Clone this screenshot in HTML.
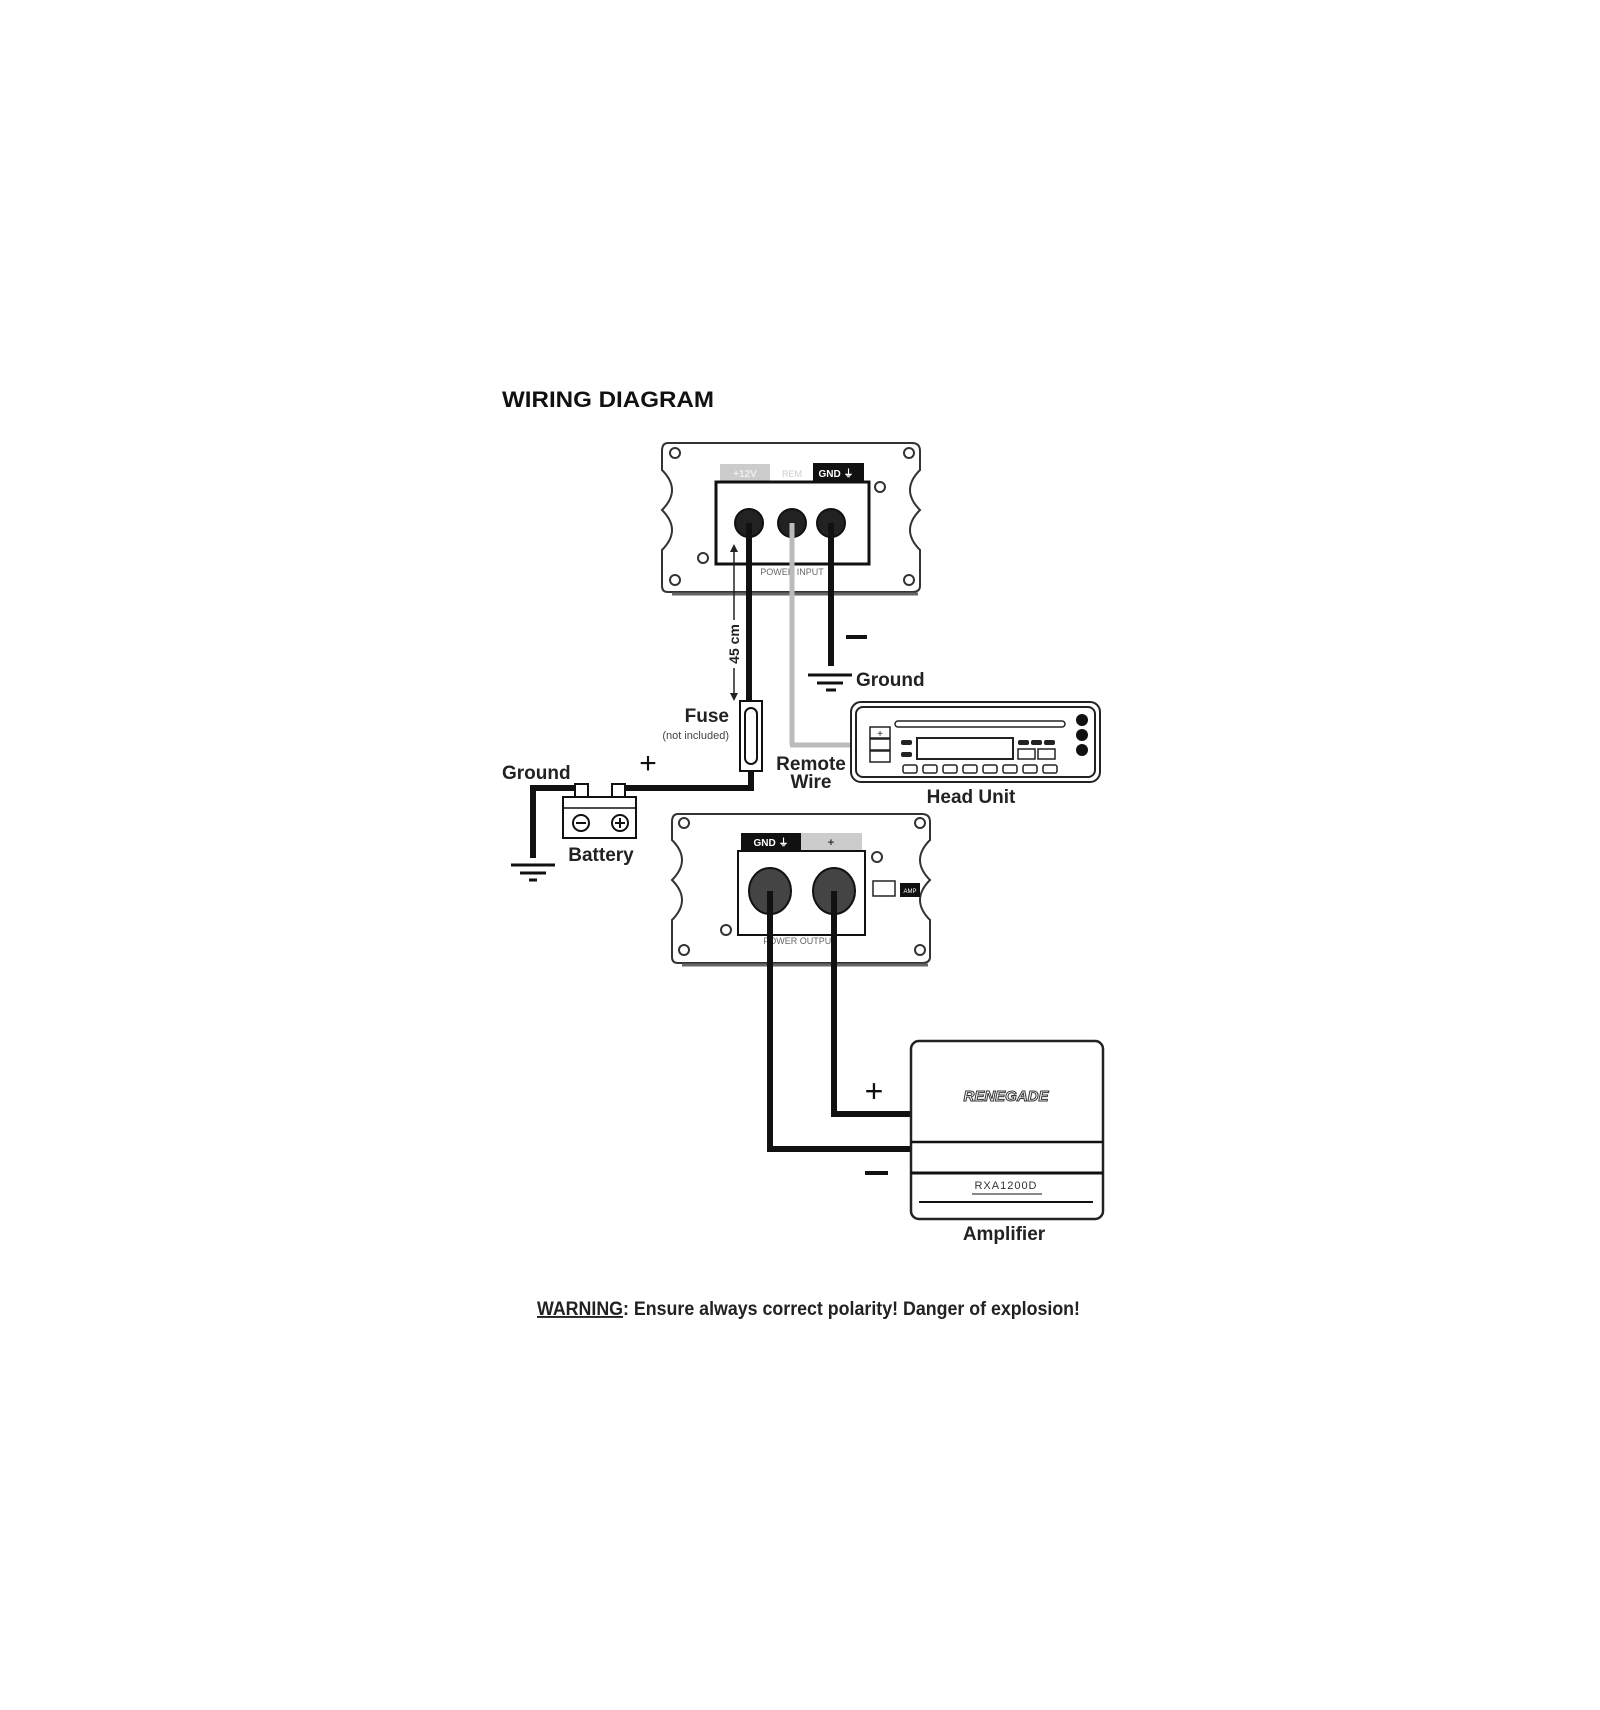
<!DOCTYPE html>
<html><head><meta charset="utf-8"><style>
html,body{margin:0;padding:0;background:#fff;}
svg{display:block;}
text{font-family:"Liberation Sans",sans-serif;}
</style></head><body>
<svg width="1600" height="1710" viewBox="0 0 1600 1710" xmlns="http://www.w3.org/2000/svg">
<rect width="1600" height="1710" fill="#fff"/>
<text x="502" y="407" font-size="22" font-weight="900" fill="#111" textLength="212" lengthAdjust="spacingAndGlyphs">WIRING DIAGRAM</text>

<!-- top plate -->
<path d="M668,443 H912 Q920,443 920,451 V470 Q910,480 910,490 Q910,500 920,510 Q910,520 910,530 Q910,540 920,550 V586 Q920,592 912,592 H668 Q662,592 662,586 V550 Q672,540 672,530 Q672,520 662,510 Q672,500 672,490 Q672,480 662,470 V451 Q662,443 668,443 Z" fill="#fff" stroke="#333" stroke-width="2"/>
<line x1="672" y1="594" x2="918" y2="594" stroke="#666" stroke-width="3"/>
<g fill="#fff" stroke="#333" stroke-width="2">
<circle cx="675" cy="453" r="5"/><circle cx="909" cy="453" r="5"/><circle cx="880" cy="487" r="5"/><circle cx="703" cy="558" r="5"/><circle cx="675" cy="580" r="5"/><circle cx="909" cy="580" r="5"/>
</g>
<rect x="720" y="464" width="50" height="17" fill="#ccc"/>
<text x="745" y="477" font-size="10" font-weight="bold" fill="#eee" text-anchor="middle">+12V</text>
<text x="792" y="477" font-size="9" fill="#ccc" text-anchor="middle">REM</text>
<rect x="813" y="463" width="51" height="18" fill="#111"/>
<text x="836" y="477" font-size="10" font-weight="bold" fill="#fff" text-anchor="middle">GND ⏚</text>
<rect x="716" y="482" width="153" height="82" fill="#fff" stroke="#111" stroke-width="3"/>
<text x="792" y="575" font-size="9" fill="#666" text-anchor="middle">POWER INPUT</text>
<g fill="#222" stroke="#111" stroke-width="2">
<circle cx="749" cy="523" r="14"/><circle cx="792" cy="523" r="14"/><circle cx="831" cy="523" r="14"/>
</g>
<!-- wires -->
<line x1="749" y1="523" x2="749" y2="702" stroke="#111" stroke-width="6"/>
<line x1="792" y1="523" x2="792" y2="745" stroke="#bbb" stroke-width="5"/>
<line x1="790" y1="745" x2="852" y2="745" stroke="#bbb" stroke-width="5"/>
<line x1="831" y1="523" x2="831" y2="666" stroke="#111" stroke-width="6"/>
<line x1="846" y1="637" x2="867" y2="637" stroke="#111" stroke-width="4"/>
<line x1="808" y1="675" x2="852" y2="675" stroke="#111" stroke-width="3"/>
<line x1="817" y1="683" x2="843" y2="683" stroke="#111" stroke-width="3"/>
<line x1="826" y1="690" x2="836" y2="690" stroke="#111" stroke-width="3"/>
<text x="856" y="686" font-size="19" font-weight="bold" fill="#222">Ground</text>
<!-- 45cm -->
<line x1="734" y1="548" x2="734" y2="620" stroke="#222" stroke-width="1.5"/>
<line x1="734" y1="668" x2="734" y2="697" stroke="#222" stroke-width="1.5"/>
<path d="M730,552 L734,544 L738,552 Z M730,693 L734,701 L738,693 Z" fill="#222"/>
<text transform="translate(739,644) rotate(-90)" font-size="14" font-weight="bold" fill="#222" text-anchor="middle">45 cm</text>
<!-- fuse -->
<rect x="740" y="701" width="22" height="70" fill="#fff" stroke="#111" stroke-width="2"/>
<rect x="745" y="708" width="12" height="56" rx="6" fill="#fff" stroke="#111" stroke-width="2"/>
<text x="729" y="722" font-size="19" font-weight="bold" fill="#222" text-anchor="end">Fuse</text>
<text x="729" y="739" font-size="11" fill="#444" text-anchor="end">(not included)</text>
<path d="M751,771 V788 H620" fill="none" stroke="#111" stroke-width="6"/>
<text x="648" y="773" font-size="30" fill="#111" text-anchor="middle">+</text>
<!-- battery -->
<path d="M578,788 H533 V858" fill="none" stroke="#111" stroke-width="6"/>
<rect x="575" y="784" width="13" height="13" fill="#fff" stroke="#111" stroke-width="2"/>
<rect x="612" y="784" width="13" height="13" fill="#fff" stroke="#111" stroke-width="2"/>
<rect x="563" y="797" width="73" height="41" fill="#fff" stroke="#111" stroke-width="2"/>
<line x1="563" y1="808" x2="636" y2="808" stroke="#111" stroke-width="1.5"/>
<circle cx="581" cy="823" r="8" fill="#fff" stroke="#111" stroke-width="2"/>
<line x1="576" y1="823" x2="586" y2="823" stroke="#111" stroke-width="2"/>
<circle cx="620" cy="823" r="8" fill="#fff" stroke="#111" stroke-width="2"/>
<path d="M615,823 H625 M620,818 V828" stroke="#111" stroke-width="2"/>
<line x1="511" y1="865" x2="555" y2="865" stroke="#111" stroke-width="3"/>
<line x1="520" y1="873" x2="546" y2="873" stroke="#111" stroke-width="3"/>
<line x1="529" y1="880" x2="537" y2="880" stroke="#111" stroke-width="3"/>
<text x="502" y="779" font-size="19" font-weight="bold" fill="#222">Ground</text>
<text x="601" y="861" font-size="19" font-weight="bold" fill="#222" text-anchor="middle">Battery</text>
<text x="811" y="770" font-size="19" font-weight="bold" fill="#222" text-anchor="middle">Remote</text>
<text x="811" y="788" font-size="19" font-weight="bold" fill="#222" text-anchor="middle">Wire</text>
<!-- head unit -->
<rect x="851" y="702" width="249" height="80" rx="10" fill="#fff" stroke="#222" stroke-width="2"/>
<rect x="856" y="707" width="239" height="70" rx="7" fill="#fff" stroke="#222" stroke-width="2"/>
<rect x="895" y="721" width="170" height="6" rx="3" fill="#fff" stroke="#222" stroke-width="1.5"/>
<rect x="917" y="738" width="96" height="21" fill="#fff" stroke="#222" stroke-width="2"/>
<rect x="870" y="727" width="20" height="11" fill="#fff" stroke="#222" stroke-width="1.5"/>
<rect x="870" y="739" width="20" height="11" fill="#fff" stroke="#222" stroke-width="1.5"/>
<rect x="870" y="751" width="20" height="11" fill="#fff" stroke="#222" stroke-width="1.5"/>
<text x="880" y="737" font-size="10" text-anchor="middle" fill="#222">+</text>
<rect x="901" y="740" width="11" height="5" rx="2" fill="#222"/><rect x="901" y="752" width="11" height="5" rx="2" fill="#222"/>
<rect x="1018" y="740" width="11" height="5" rx="2" fill="#222"/><rect x="1031" y="740" width="11" height="5" rx="2" fill="#222"/><rect x="1044" y="740" width="11" height="5" rx="2" fill="#222"/>
<rect x="1018" y="749" width="17" height="10" fill="#fff" stroke="#222" stroke-width="1.5"/><rect x="1038" y="749" width="17" height="10" fill="#fff" stroke="#222" stroke-width="1.5"/>
<g fill="#fff" stroke="#222" stroke-width="1.5">
<rect x="903" y="765" width="14" height="8" rx="2"/><rect x="923" y="765" width="14" height="8" rx="2"/><rect x="943" y="765" width="14" height="8" rx="2"/><rect x="963" y="765" width="14" height="8" rx="2"/><rect x="983" y="765" width="14" height="8" rx="2"/><rect x="1003" y="765" width="14" height="8" rx="2"/><rect x="1023" y="765" width="14" height="8" rx="2"/><rect x="1043" y="765" width="14" height="8" rx="2"/>
</g>
<circle cx="1082" cy="720" r="6" fill="#111"/><circle cx="1082" cy="735" r="6" fill="#111"/><circle cx="1082" cy="750" r="6" fill="#111"/>
<text x="971" y="803" font-size="19" font-weight="bold" fill="#222" text-anchor="middle">Head Unit</text>

<!-- second plate -->
<path d="M678,814 H922 Q930,814 930,822 V840 Q920,850 920,860 Q920,870 930,880 Q920,890 920,900 Q920,910 930,920 V957 Q930,963 922,963 H678 Q672,963 672,957 V920 Q682,910 682,900 Q682,890 672,880 Q682,870 682,860 Q682,850 672,840 V822 Q672,814 678,814 Z" fill="#fff" stroke="#333" stroke-width="2"/>
<line x1="682" y1="965" x2="928" y2="965" stroke="#666" stroke-width="3"/>
<g fill="#fff" stroke="#333" stroke-width="2">
<circle cx="684" cy="823" r="5"/><circle cx="920" cy="823" r="5"/><circle cx="877" cy="857" r="5"/><circle cx="726" cy="930" r="5"/><circle cx="684" cy="950" r="5"/><circle cx="920" cy="950" r="5"/>
</g>
<rect x="741" y="833" width="60" height="17" fill="#111"/>
<text x="771" y="846" font-size="10" font-weight="bold" fill="#fff" text-anchor="middle">GND ⏚</text>
<rect x="801" y="833" width="61" height="17" fill="#ccc"/>
<text x="831" y="846" font-size="11" font-weight="bold" fill="#333" text-anchor="middle">+</text>
<rect x="738" y="851" width="127" height="84" fill="#fff" stroke="#111" stroke-width="2"/>
<text x="800" y="944" font-size="9" fill="#666" text-anchor="middle">POWER OUTPUT</text>
<ellipse cx="770" cy="891" rx="21" ry="23" fill="#444" stroke="#111" stroke-width="2"/>
<ellipse cx="834" cy="891" rx="21" ry="23" fill="#444" stroke="#111" stroke-width="2"/>
<rect x="873" y="881" width="22" height="15" fill="#fff" stroke="#222" stroke-width="1.5"/>
<rect x="900" y="883" width="20" height="14" fill="#111"/>
<text x="910" y="893" font-size="6" fill="#fff" text-anchor="middle">AMP</text>
<!-- output wires -->
<path d="M770,891 V1149 H910" fill="none" stroke="#111" stroke-width="6"/>
<path d="M834,891 V1114 H910" fill="none" stroke="#111" stroke-width="6"/>
<text x="874" y="1102" font-size="32" fill="#111" text-anchor="middle">+</text>
<line x1="865" y1="1173" x2="888" y2="1173" stroke="#111" stroke-width="4"/>
<!-- amplifier -->
<rect x="911" y="1041" width="192" height="178" rx="8" fill="#fff" stroke="#222" stroke-width="2.5"/>
<line x1="911" y1="1142" x2="1103" y2="1142" stroke="#111" stroke-width="2.5"/>
<line x1="911" y1="1173" x2="1103" y2="1173" stroke="#111" stroke-width="3"/>
<line x1="919" y1="1202" x2="1093" y2="1202" stroke="#111" stroke-width="2"/>
<text x="1006" y="1101" font-size="15" font-style="italic" font-weight="bold" fill="#fff" stroke="#333" stroke-width="1" text-anchor="middle">RENEGADE</text>
<text x="1006" y="1189" font-size="11" fill="#333" text-anchor="middle" letter-spacing="1">RXA1200D</text>
<line x1="972" y1="1194" x2="1042" y2="1194" stroke="#888" stroke-width="2"/>
<text x="1004" y="1240" font-size="19" font-weight="bold" fill="#222" text-anchor="middle">Amplifier</text>

<text x="537" y="1315" font-size="19" font-weight="bold" fill="#222" textLength="543" lengthAdjust="spacingAndGlyphs"><tspan text-decoration="underline">WARNING</tspan>: Ensure always correct polarity! Danger of explosion!</text>
</svg>
</body></html>
